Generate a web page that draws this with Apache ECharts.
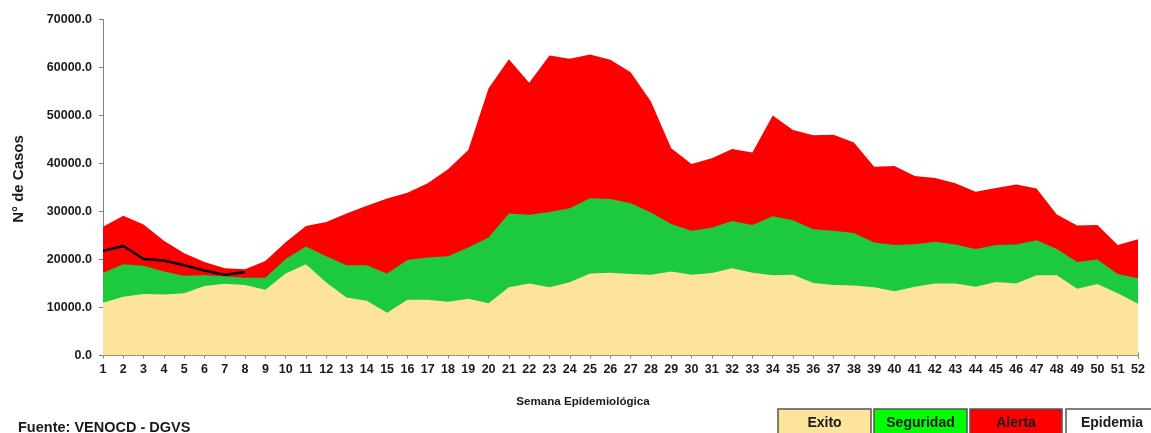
<!DOCTYPE html>
<html>
<head>
<meta charset="utf-8">
<script src="https://cdn.jsdelivr.net/npm/echarts@6/dist/echarts.min.js"></script>
<style>
  html, body { margin: 0; padding: 0; background: #ffffff; }
  #chart { width: 1151px; height: 433px; }
</style>
</head>
<body>
<div id="chart"></div>
<script>
// Semanas epidemiológicas
const weeks = ['1','2','3','4','5','6','7','8','9','10','11','12','13','14','15','16','17','18','19','20','21','22','23','24','25','26','27','28','29','30','31','32','33','34','35','36','37','38','39','40','41','42','43','44','45','46','47','48','49','50','51','52'];

// Límite superior de la zona de Éxito
const exito = [11000,12250,12800,12700,12950,14500,14950,14700,13700,17100,19000,15200,12100,11400,8900,11600,11600,11200,11800,10900,14200,15000,14200,15250,17100,17250,17000,16800,17500,16800,17200,18200,17250,16700,16800,15100,14700,14600,14200,13400,14300,15000,15000,14300,15300,15000,16700,16700,13900,14900,12950,10800];

// Límite superior de la zona de Seguridad
const seguridad = [17250,19000,18700,17500,16600,16700,16500,16200,16200,20100,22700,20700,18800,18800,17100,19900,20400,20700,22500,24600,29600,29300,29900,30700,32750,32600,31700,29800,27400,26000,26600,28000,27200,29000,28200,26300,26000,25500,23550,23000,23200,23700,23100,22200,23000,23100,24000,22200,19500,20000,17000,16100];

// Límite superior de la zona de Alerta
const alerta = [26800,29100,27300,23900,21300,19500,18200,17950,19700,23600,27000,27800,29600,31200,32700,33900,35900,38800,42800,55700,61700,56800,62500,61800,62700,61600,59000,52900,43200,39900,41100,43000,42300,50000,47000,45900,46000,44400,39300,39500,37400,37000,35900,34100,34900,35600,34800,29400,27100,27200,23000,24200];

// Casos del año en curso (semanas 1-8)
const actual = [21800,22800,20100,19800,18800,17700,16800,17400];

// Etiquetas de la leyenda
const legendLabels = ['Exito','Seguridad','Alerta','Epidemia'];
const legendColors = ['#FDE49A','#00FF00','#FF0000','#FFFFFF'];

const chart = echarts.init(document.getElementById('chart'), null, { renderer: 'canvas' });

const FONT = 'Liberation Sans, Arial, sans-serif';

function areaSeries(name, data, color) {
  return {
    name: name,
    type: 'line',
    data: data,
    symbol: 'none',
    silent: true,
    lineStyle: { width: 0, color: color },
    areaStyle: { color: color, opacity: 1 },
    itemStyle: { color: color }
  };
}

const legendGraphics = [];
const boxX = [778, 874, 970, 1066];
const boxW = [93, 93, 92, 92];
legendLabels.forEach((lab, i) => {
  legendGraphics.push({
    type: 'rect',
    shape: { x: boxX[i], y: 409, width: boxW[i], height: 32 },
    style: { fill: legendColors[i], stroke: '#555555', lineWidth: 1.5 }
  });
  legendGraphics.push({
    type: 'text',
    x: boxX[i] + boxW[i] / 2,
    y: 423,
    style: {
      text: lab,
      fill: '#1a1a1a',
      font: 'bold 14px ' + FONT,
      textAlign: 'center',
      textVerticalAlign: 'middle'
    }
  });
});

const option = {
  backgroundColor: '#ffffff',
  animation: false,
  grid: { left: 103, right: 13, top: 19.5, bottom: 77.5, containLabel: false },
  xAxis: [{
    type: 'category',
    data: weeks,
    boundaryGap: false,
    axisLine: { show: true, lineStyle: { color: '#808080', width: 1 } },
    axisTick: { show: true, alignWithLabel: true, length: 3, lineStyle: { color: '#808080' } },
    axisLabel: { color: '#1a1a1a', fontFamily: FONT, fontWeight: 'bold', fontSize: 12.5, margin: 8, interval: 0 },
    splitLine: { show: false }
  }, {
    type: 'category',
    data: weeks,
    boundaryGap: false,
    position: 'bottom',
    axisLine: { show: false },
    axisTick: { show: true, inside: true, length: 3, lineStyle: { color: '#808080' } },
    axisLabel: { show: false },
    splitLine: { show: false }
  }],
  yAxis: {
    type: 'value',
    min: 0,
    max: 70000,
    interval: 10000,
    axisLine: { show: true, lineStyle: { color: '#808080', width: 1 } },
    axisTick: { show: true, length: 4, lineStyle: { color: '#808080' } },
    axisLabel: {
      color: '#1a1a1a', fontFamily: FONT, fontWeight: 'bold', fontSize: 12.5, margin: 11,
      formatter: v => v.toFixed(1)
    },
    splitLine: { show: false }
  },
  series: [
    areaSeries('Alerta', alerta, '#FF0000'),
    areaSeries('Seguridad', seguridad, '#1DC93E'),
    areaSeries('Exito', exito, '#FDE49A'),
    {
      name: 'Actual',
      type: 'line',
      data: actual,
      symbol: 'none',
      silent: true,
      lineStyle: { color: '#000000', width: 2.5 },
      z: 5
    }
  ],
  graphic: [
    {
      type: 'text',
      x: 19,
      y: 179,
      rotation: Math.PI / 2,
      style: {
        text: 'N° de Casos',
        fill: '#1a1a1a',
        font: 'bold 15px ' + FONT,
        textAlign: 'center',
        textVerticalAlign: 'middle'
      }
    },
    {
      type: 'text',
      x: 583,
      y: 402,
      style: {
        text: 'Semana Epidemiológica',
        fill: '#1a1a1a',
        font: 'bold 11.6px ' + FONT,
        textAlign: 'center',
        textVerticalAlign: 'middle'
      }
    },
    {
      type: 'text',
      x: 18,
      y: 428,
      style: {
        text: 'Fuente: VENOCD - DGVS',
        fill: '#1a1a1a',
        font: 'bold 14.5px ' + FONT,
        textAlign: 'left',
        textVerticalAlign: 'middle'
      }
    }
  ].concat(legendGraphics)
};

chart.setOption(option);
</script>
</body>
</html>
